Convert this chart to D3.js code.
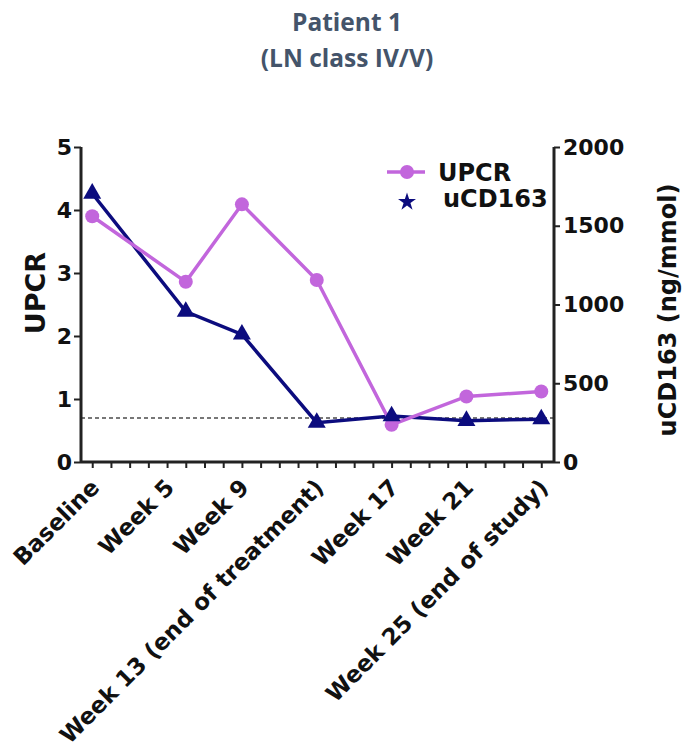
<!DOCTYPE html>
<html>
<head>
<meta charset="utf-8">
<script src="https://cdn.jsdelivr.net/npm/d3@7"></script>
<style>
  html, body { margin: 0; padding: 0; background: #fff; }
  svg { display: block; }
  .tick text { font-family: "DejaVu Sans", sans-serif; font-weight: bold; }
</style>
</head>
<body>
<svg id="chart" width="693" height="749"></svg>
<script>
// Visit positions (weeks from baseline) and the label shown under each major tick
const visitWeeks = [0, 5, 8, 12, 16, 20, 24];
const labelWeeks = [0, 4, 8, 12, 16, 20, 24];
const visitLabels = ["Baseline", "Week 5", "Week 9", "Week 13 (end of treatment)", "Week 17", "Week 21", "Week 25 (end of study)"];

// Series values
const upcr = [3.90, 2.86, 4.09, 2.89, 0.59, 1.04, 1.12];        // left axis
const ucd163 = [1705, 955, 810, 250, 292, 262, 272];            // right axis, ng/mmol

// Axis ticks
const leftTicks = [0, 1, 2, 3, 4, 5];
const rightTicks = [0, 500, 1000, 1500, 2000];
const minorWeeks = d3.range(0, 25);
const thresholdUPCR = 0.7;

const titleLines = ["Patient 1", "(LN class IV/V)"];

const purple = "#c266dc";
const navy = "#0c0c7e";
const axisColor = "#222";
const labelFont = "'DejaVu Sans', sans-serif";

const svg = d3.select("#chart");

// Title
svg.append("g").selectAll("text").data(titleLines).join("text")
  .attr("x", 347)
  .attr("y", (d, i) => 31 + i * 36)
  .attr("text-anchor", "middle")
  .attr("font-family", "'Open Sans', sans-serif")
  .attr("font-weight", "bold")
  .attr("font-size", 24.5)
  .attr("fill", "#44546a")
  .text(d => d);

const plotLeft = 81, plotRight = 554, plotTop = 147, plotBottom = 462;

const x = d3.scaleLinear().domain([-0.6, 24.68]).range([plotLeft, plotRight]);
const yL = d3.scaleLinear().domain([0, 5]).range([plotBottom, plotTop]);
const yR = d3.scaleLinear().domain([0, 2000]).range([plotBottom, plotTop]);

// Threshold line
svg.append("line")
  .attr("x1", plotLeft).attr("x2", plotRight)
  .attr("y1", yL(thresholdUPCR)).attr("y2", yL(thresholdUPCR))
  .attr("stroke", "#777").attr("stroke-width", 2)
  .attr("stroke-dasharray", "4,3");

// Left axis
const gL = svg.append("g").attr("transform", `translate(${plotLeft},0)`)
  .call(d3.axisLeft(yL).tickValues(leftTicks).tickSize(7).tickPadding(2).tickFormat(d3.format("d")));
// Right axis
const gR = svg.append("g").attr("transform", `translate(${plotRight},0)`)
  .call(d3.axisRight(yR).tickValues(rightTicks).tickSize(6).tickPadding(3).tickFormat(d3.format("d")));
// Bottom axis: weekly minor ticks
const gB = svg.append("g").attr("transform", `translate(0,${plotBottom})`)
  .call(d3.axisBottom(x).tickValues(minorWeeks).tickSize(6).tickFormat(""));

[gL, gR, gB].forEach(g => {
  g.select(".domain").attr("stroke", axisColor).attr("stroke-width", 3);
  g.selectAll(".tick line").attr("stroke", axisColor).attr("stroke-width", 2);
});
gL.select(".domain").attr("d", `M0,${plotTop}V${plotBottom}`);
gR.select(".domain").attr("d", `M0,${plotTop}V${plotBottom}`);
gB.select(".domain").attr("d", `M${plotLeft},0H${plotRight}`);
gL.selectAll(".tick text").attr("font-size", 22).attr("fill", "#111");
gR.selectAll(".tick text").attr("font-size", 22).attr("fill", "#111");

// Category labels, rotated
const gX = svg.append("g").attr("transform", `translate(0,${plotBottom})`)
  .call(d3.axisBottom(x).tickValues(labelWeeks).tickSize(0).tickFormat((d, i) => visitLabels[i]));
gX.select(".domain").remove();
gX.selectAll(".tick text")
  .attr("font-size", 23)
  .attr("fill", "#111")
  .attr("text-anchor", "end")
  .attr("dy", null)
  .attr("y", 0)
  .attr("transform", "translate(8,27) rotate(-45)");

// Axis titles
svg.append("text")
  .attr("transform", `translate(45,293) rotate(-90)`)
  .attr("text-anchor", "middle")
  .attr("font-family", labelFont)
  .attr("font-weight", "bold").attr("font-size", 27).attr("fill", "#111")
  .text("UPCR");
svg.append("text")
  .attr("transform", `translate(676,310) rotate(-90)`)
  .attr("text-anchor", "middle")
  .attr("font-family", labelFont)
  .attr("font-weight", "bold").attr("font-size", 24).attr("fill", "#111")
  .text("uCD163 (ng/mmol)");

// Series
const upcrPts = visitWeeks.map((w, i) => [w, upcr[i]]);
const cdPts = visitWeeks.map((w, i) => [w, ucd163[i]]);

svg.append("path").datum(cdPts)
  .attr("fill", "none").attr("stroke", navy).attr("stroke-width", 3.5)
  .attr("d", d3.line().x(d => x(d[0])).y(d => yR(d[1])));
svg.append("path").datum(upcrPts)
  .attr("fill", "none").attr("stroke", purple).attr("stroke-width", 3.5)
  .attr("d", d3.line().x(d => x(d[0])).y(d => yL(d[1])));

svg.append("g").selectAll("circle").data(upcrPts).join("circle")
  .attr("cx", d => x(d[0])).attr("cy", d => yL(d[1])).attr("r", 7)
  .attr("fill", purple);
svg.append("g").selectAll("path").data(cdPts).join("path")
  .attr("transform", d => `translate(${x(d[0])},${yR(d[1])})`)
  .attr("d", d3.symbol(d3.symbolTriangle, 140))
  .attr("fill", navy);

// Legend
const lg = svg.append("g");
lg.append("line").attr("x1", 387).attr("x2", 425).attr("y1", 172).attr("y2", 172)
  .attr("stroke", purple).attr("stroke-width", 3.5);
lg.append("circle").attr("cx", 407).attr("cy", 172).attr("r", 7).attr("fill", purple);
lg.append("path").attr("transform", "translate(407,202)")
  .attr("d", d3.symbol(d3.symbolStar, 100)).attr("fill", navy);
lg.selectAll("text").data([["UPCR", 438, 181], ["uCD163", 443, 207]]).join("text")
  .attr("x", d => d[1]).attr("y", d => d[2])
  .attr("font-family", labelFont)
  .attr("font-weight", "bold").attr("font-size", 24).attr("fill", "#111")
  .text(d => d[0]);
</script>
</body>
</html>
